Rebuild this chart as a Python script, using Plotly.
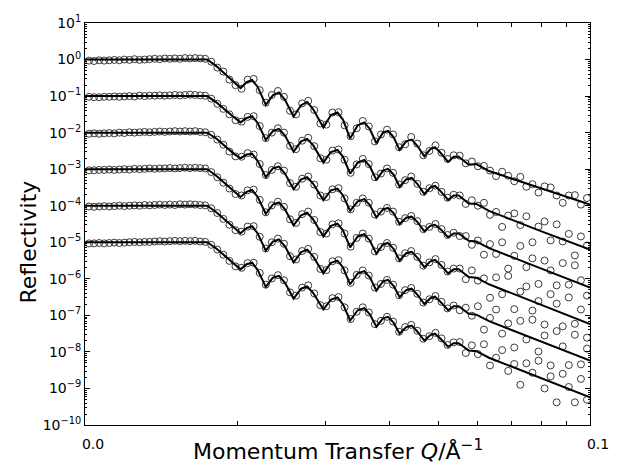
import plotly.graph_objects as go

# ---------------- data (log10 reflectivity relative to each curve's plateau) ----------------
offsets = [0, -1, -2, -3, -4, -5]   # each curve shifted by one decade for clarity

q_fit = [0.0000, 0.0242, 0.0260, 0.0279, 0.0295, 0.0308, 0.0320, 0.0331, 0.0342, 0.0358,
         0.0372, 0.0384, 0.0396, 0.0413, 0.0428, 0.0440, 0.0452, 0.0472, 0.0487, 0.0500,
         0.0511, 0.0525, 0.0540, 0.0553, 0.0564, 0.0577, 0.0590, 0.0600, 0.0611, 0.0623,
         0.0636, 0.0647, 0.0658, 0.0672, 0.0684, 0.0693, 0.0704, 0.0719, 0.0730, 0.0740,
         0.0760, 0.0775, 0.0800, 0.0900, 0.1000]

fit_0 = [0.00, 0.00, -0.18, -0.42, -0.62, -0.78, -0.62, -0.56, -0.75, -1.24, -0.98, -0.90, -1.10, -1.56, -1.25,
         -1.16, -1.36, -1.86, -1.52, -1.45, -1.65, -2.16, -1.80, -1.72, -1.90, -2.29, -2.00, -1.95, -2.12, -2.47,
         -2.24, -2.19, -2.36, -2.65, -2.45, -2.40, -2.55, -2.80, -2.66, -2.66, -2.88, -2.86, -3.05, -3.50, -3.97]
fit_1 = [0.00, 0.00, -0.17, -0.40, -0.58, -0.72, -0.60, -0.55, -0.74, -1.20, -0.96, -0.90, -1.08, -1.52, -1.24,
         -1.17, -1.35, -1.82, -1.53, -1.47, -1.66, -2.12, -1.82, -1.75, -1.92, -2.30, -2.04, -1.99, -2.15, -2.48,
         -2.28, -2.24, -2.40, -2.68, -2.50, -2.46, -2.60, -2.84, -2.72, -2.72, -2.94, -2.95, -3.14, -3.68, -4.20]
fit_2 = [0.00, 0.00, -0.16, -0.38, -0.58, -0.70, -0.60, -0.58, -0.78, -1.22, -0.98, -0.93, -1.12, -1.55, -1.28,
         -1.22, -1.40, -1.85, -1.58, -1.53, -1.72, -2.14, -1.88, -1.82, -1.98, -2.32, -2.10, -2.06, -2.20, -2.50,
         -2.33, -2.30, -2.44, -2.70, -2.55, -2.52, -2.64, -2.86, -2.76, -2.76, -2.96, -2.98, -3.16, -3.70, -4.24]
fit_3 = [0.00, 0.00, -0.18, -0.42, -0.62, -0.76, -0.62, -0.57, -0.76, -1.22, -0.97, -0.91, -1.10, -1.54, -1.26,
         -1.19, -1.38, -1.84, -1.55, -1.49, -1.68, -2.14, -1.84, -1.78, -1.95, -2.31, -2.06, -2.02, -2.18, -2.50,
         -2.30, -2.26, -2.42, -2.68, -2.52, -2.48, -2.62, -2.85, -2.74, -2.74, -2.95, -2.97, -3.15, -3.70, -4.24]
fit_4 = [0.00, 0.00, -0.18, -0.41, -0.61, -0.75, -0.61, -0.56, -0.76, -1.23, -0.98, -0.92, -1.11, -1.55, -1.27,
         -1.20, -1.39, -1.85, -1.56, -1.50, -1.69, -2.15, -1.85, -1.79, -1.96, -2.32, -2.07, -2.03, -2.19, -2.50,
         -2.31, -2.27, -2.43, -2.69, -2.53, -2.49, -2.63, -2.86, -2.75, -2.75, -2.96, -2.98, -3.16, -3.70, -4.24]
fit_5 = [0.00, 0.00, -0.17, -0.40, -0.60, -0.74, -0.60, -0.56, -0.76, -1.22, -0.97, -0.92, -1.11, -1.54, -1.27,
         -1.21, -1.39, -1.84, -1.57, -1.51, -1.70, -2.14, -1.86, -1.80, -1.97, -2.31, -2.08, -2.04, -2.20, -2.50,
         -2.32, -2.28, -2.44, -2.69, -2.54, -2.50, -2.64, -2.86, -2.76, -2.76, -2.96, -2.98, -3.16, -3.70, -4.24]

q_data = [0.0008, 0.0018, 0.0028, 0.0038, 0.0048, 0.0058, 0.0068, 0.0078, 0.0088, 0.0098, 0.0108, 0.0118,
          0.0128, 0.0138, 0.0148, 0.0158, 0.0168, 0.0178, 0.0188, 0.0198, 0.0208, 0.0218, 0.0228, 0.0238,
          0.0250, 0.0262, 0.0274, 0.0286, 0.0298, 0.0310, 0.0322, 0.0334, 0.0346, 0.0358, 0.0370, 0.0382,
          0.0394, 0.0406, 0.0418, 0.0430, 0.0442, 0.0454, 0.0466, 0.0478, 0.0490, 0.0502, 0.0514, 0.0526,
          0.0538, 0.0550, 0.0562, 0.0574, 0.0586, 0.0598, 0.0610, 0.0622, 0.0634, 0.0646, 0.0658, 0.0670,
          0.0682, 0.0694, 0.0706, 0.0718, 0.0730,
          0.0742, 0.0754, 0.0766, 0.0778, 0.0790, 0.0802, 0.0814, 0.0826, 0.0838, 0.0850, 0.0862,
          0.0874, 0.0886, 0.0898, 0.0910, 0.0922, 0.0934, 0.0946, 0.0958, 0.0970, 0.0982, 0.0994]

data_0 = [-0.03, -0.04, -0.02, -0.03, -0.02, -0.01, -0.02, 0.00, -0.01, 0.01, -0.01, 0.00,
          0.01, 0.02, 0.01, 0.03, 0.02, 0.03, 0.02, 0.04, 0.03, 0.04, 0.03, 0.02,
          -0.06, -0.22, -0.33, -0.55, -0.70, -0.80, -0.55, -0.53, -0.84, -1.18, -0.97, -0.86,
          -1.02, -1.40, -1.50, -1.20, -1.13, -1.38, -1.75, -1.78, -1.45, -1.44, -1.80, -2.10,
          -1.88, -1.68, -1.83, -2.24, -2.05, -1.92, -2.05, -2.40, -2.32, -2.12, -2.30, -2.62,
          -2.50, -2.35, -2.55, -2.72, -2.62,
          -2.63, -2.84, -2.79, -2.92, -2.91, -3.04, -3.19, -3.07, -3.18, -3.33, -3.21,
          -3.48, -3.41, -3.64, -3.47, -3.50, -3.72, -3.92, -3.72, -3.71, -3.97, -3.79]
data_1 = [-0.02, -0.03, -0.03, -0.02, -0.02, -0.01, -0.02, -0.01, 0.00, -0.01, 0.01, 0.00,
          0.01, 0.01, 0.02, 0.01, 0.02, 0.03, 0.02, 0.03, 0.04, 0.03, 0.02, 0.01,
          -0.07, -0.21, -0.35, -0.50, -0.66, -0.70, -0.57, -0.55, -0.82, -1.15, -1.00, -0.88,
          -1.00, -1.36, -1.45, -1.22, -1.14, -1.37, -1.70, -1.74, -1.49, -1.46, -1.74, -2.10,
          -1.87, -1.72, -1.86, -2.22, -2.12, -1.98, -2.10, -2.42, -2.30, -2.20, -2.40, -2.62,
          -2.52, -2.45, -2.62, -2.78, -2.70,
          -2.72, -2.95, -2.85, -3.00, -2.92, -3.25, -3.17, -3.58, -3.27, -3.21, -3.53,
          -3.29, -4.00, -3.57, -3.43, -3.95, -3.51, -3.98, -3.77, -4.36, -3.84, -4.09]
data_2 = [-0.03, -0.02, -0.03, -0.02, -0.01, -0.02, 0.00, -0.01, 0.01, 0.00, 0.01, 0.02,
          0.01, 0.02, 0.03, 0.02, 0.03, 0.04, 0.03, 0.04, 0.03, 0.04, 0.02, 0.01,
          -0.06, -0.19, -0.33, -0.52, -0.65, -0.66, -0.56, -0.60, -0.86, -1.16, -1.02, -0.92,
          -1.04, -1.38, -1.48, -1.26, -1.20, -1.42, -1.72, -1.76, -1.55, -1.52, -1.80, -2.10,
          -1.92, -1.80, -1.92, -2.24, -2.16, -2.06, -2.16, -2.44, -2.34, -2.28, -2.42, -2.64,
          -2.58, -2.50, -2.64, -2.80, -2.74,
          -2.83, -2.83, -3.07, -2.95, -3.34, -3.05, -3.32, -3.00, -3.72, -3.37, -3.10,
          -3.68, -3.44, -4.14, -3.50, -3.77, -4.18, -3.57, -4.16, -3.63, -4.04, -4.46]
data_3 = [-0.03, -0.03, -0.02, -0.02, -0.01, -0.02, -0.01, 0.00, -0.01, 0.01, 0.00, 0.01,
          0.02, 0.01, 0.02, 0.02, 0.03, 0.02, 0.03, 0.04, 0.03, 0.04, 0.03, 0.02,
          -0.08, -0.22, -0.37, -0.53, -0.68, -0.72, -0.58, -0.56, -0.84, -1.18, -0.99, -0.89,
          -1.03, -1.37, -1.47, -1.23, -1.16, -1.39, -1.72, -1.76, -1.51, -1.48, -1.76, -2.12,
          -1.88, -1.76, -1.90, -2.25, -2.13, -2.02, -2.15, -2.44, -2.30, -2.24, -2.40, -2.64,
          -2.55, -2.46, -2.62, -2.80, -2.72,
          -2.72, -3.01, -2.77, -3.05, -2.99, -3.52, -2.96, -3.42, -2.92, -3.83, -3.35,
          -3.21, -3.87, -3.61, -4.25, -3.42, -3.68, -4.30, -3.51, -4.23, -3.84, -4.61]
data_4 = [-0.02, -0.03, -0.02, -0.01, -0.02, -0.01, 0.00, -0.01, 0.00, 0.01, 0.00, 0.02,
          0.01, 0.02, 0.03, 0.02, 0.03, 0.02, 0.04, 0.03, 0.04, 0.03, 0.02, 0.01,
          -0.07, -0.20, -0.36, -0.52, -0.67, -0.71, -0.57, -0.56, -0.85, -1.17, -1.00, -0.90,
          -1.04, -1.38, -1.47, -1.24, -1.18, -1.40, -1.73, -1.76, -1.52, -1.49, -1.77, -2.11,
          -1.89, -1.77, -1.91, -2.24, -2.14, -2.03, -2.16, -2.45, -2.31, -2.25, -2.41, -2.65,
          -2.56, -2.47, -2.63, -2.81, -2.73,
          -2.86, -2.79, -3.01, -2.75, -3.39, -3.07, -2.84, -3.50, -3.22, -3.88, -3.15,
          -3.66, -3.12, -3.99, -3.55, -4.37, -3.43, -3.85, -4.36, -3.53, -4.34, -3.91]
data_5 = [-0.03, -0.03, -0.02, -0.03, -0.02, -0.01, -0.02, -0.01, 0.00, 0.01, 0.00, 0.01,
          0.01, 0.02, 0.03, 0.02, 0.03, 0.04, 0.03, 0.04, 0.03, 0.04, 0.02, 0.01,
          -0.07, -0.20, -0.34, -0.51, -0.66, -0.70, -0.57, -0.56, -0.84, -1.16, -0.99, -0.90,
          -1.04, -1.37, -1.46, -1.24, -1.18, -1.40, -1.72, -1.75, -1.53, -1.50, -1.78, -2.10,
          -1.90, -1.78, -1.92, -2.24, -2.15, -2.04, -2.17, -2.45, -2.32, -2.26, -2.42, -2.64,
          -2.57, -2.48, -2.63, -2.81, -2.74,
          -2.73, -3.03, -2.82, -3.06, -2.79, -3.37, -3.16, -2.95, -3.52, -3.33, -3.90,
          -3.31, -3.57, -3.24, -4.00, -3.67, -4.38, -3.60, -3.96, -4.38, -3.74, -4.31]

y_tick_exponents = [1, 0, -1, -2, -3, -4, -5, -6, -7, -8, -9, -10]
x_tick_labels = ["0.0", "0.1"]

fits = [fit_0, fit_1, fit_2, fit_3, fit_4, fit_5]
datas = [data_0, data_1, data_2, data_3, data_4, data_5]
for f in fits:
    assert len(f) == len(q_fit)
for d in datas:
    assert len(d) == len(q_data)

# ---------------- figure ----------------
fig = go.Figure()

for d, off in zip(datas, offsets):
    fig.add_trace(go.Scatter(
        x=q_data, y=[10 ** (v + off) for v in d], mode="markers",
        marker=dict(symbol="circle-open", size=7, color="#3a3a3a", line=dict(width=1)),
        showlegend=False, hoverinfo="skip", cliponaxis=True))

for f, off in zip(fits, offsets):
    fig.add_trace(go.Scatter(
        x=q_fit, y=[10 ** (v + off) for v in f], mode="lines",
        line=dict(color="black", width=2), showlegend=False, hoverinfo="skip"))

font_family = "DejaVu Sans, Liberation Sans, Arial, sans-serif"

# x axis: labels at the ends, short inside ticks at log-like positions (as in the original)
x_minor_pos = [0.0301, 0.0477, 0.0602, 0.0699, 0.0778, 0.0845, 0.0903, 0.0954]
fig.update_xaxes(
    range=[0, 0.1], showgrid=False, zeroline=False,
    showline=True, linecolor="black", linewidth=1, mirror="allticks",
    ticks="inside", ticklen=4, tickcolor="black",
    tickmode="array", tickvals=[0.0] + x_minor_pos + [0.1],
    ticktext=[x_tick_labels[0]] + [""] * len(x_minor_pos) + [x_tick_labels[1]],
    tickfont=dict(family=font_family, size=14, color="black"),
    ticklabelshift=8, ticklabelstandoff=6,
)

y_minor = [k * 10.0 ** e for e in range(-10, 1) for k in range(2, 10)]
fig.update_yaxes(
    type="log", range=[-10, 1], showgrid=False, zeroline=False,
    showline=True, linecolor="black", linewidth=1, mirror="allticks",
    ticks="inside", ticklen=5, tickcolor="black",
    tickmode="array", tickvals=[10.0 ** e for e in y_tick_exponents],
    ticktext=["10<sup>%s</sup>" % (str(e).replace("-", "\u2212")) for e in y_tick_exponents],
    tickfont=dict(family=font_family, size=14, color="black"),
    minor=dict(ticks="inside", ticklen=2, tickcolor="black", tickmode="array", tickvals=y_minor),
)

fig.add_annotation(
    text="Reflectivity", xref="paper", yref="paper", x=-0.112, y=0.455,
    xanchor="center", yanchor="middle", textangle=-90, showarrow=False,
    font=dict(family=font_family, size=22, color="black"))
fig.add_annotation(
    text="Momentum Transfer <i>Q</i>/Å<sup>\u22121</sup>", xref="paper", yref="paper",
    x=0.5, y=-0.062, xanchor="center", yanchor="middle", showarrow=False,
    font=dict(family=font_family, size=22, color="black"))

fig.update_layout(
    width=621, height=464,
    margin=dict(l=85, r=24, t=23, b=38),
    paper_bgcolor="white", plot_bgcolor="white",
)

fig.write_html("out.html")
